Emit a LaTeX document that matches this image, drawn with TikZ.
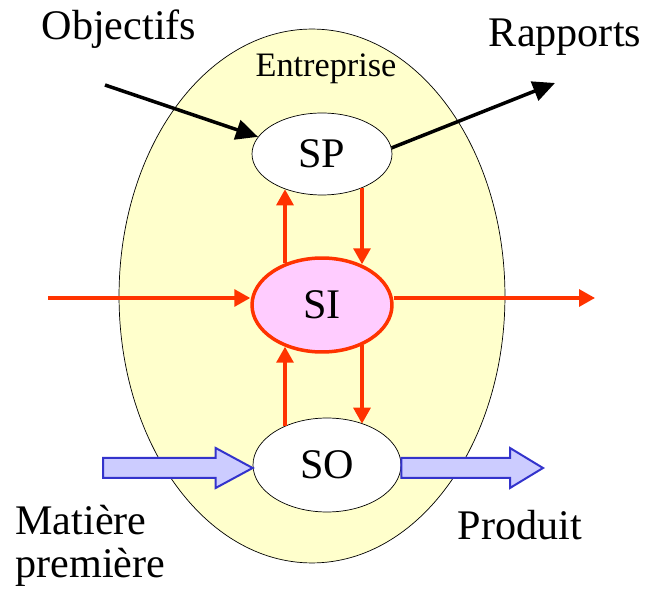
\documentclass[tikz,border=0pt]{standalone}
\usepackage{fontspec}
\setmainfont{Liberation Serif}
\newfontfamily\timesfont{Liberation Serif}
\usepackage{tikz}
\usetikzlibrary{arrows.meta, positioning, calc, shapes.geometric}
\definecolor{entfond}{RGB}{255,255,204}
\definecolor{sirose}{RGB}{255,204,255}
\definecolor{flux}{RGB}{255,51,0}
\definecolor{matbleu}{RGB}{51,51,204}
\definecolor{matfond}{RGB}{204,204,255}

\begin{document}
\begin{tikzpicture}[x=0.02cm, y=-0.02cm,
      sys/.style={ellipse, draw, thin, fill=white, inner sep=0pt,
                  font=\timesfont\fontsize{24}{26}\selectfont},
      lbl/.style={font=\timesfont\fontsize{24}{26}\selectfont, inner sep=0pt, anchor=base},
      noir/.style={-{Triangle[length=0.44cm, width=0.4cm]}, line width=0.07cm},
      rouge/.style={-{Triangle[length=0.32cm, width=0.34cm]}, flux, line width=0.065cm},
      gros/.style={draw=matbleu, fill=matfond, line width=0.04cm, line join=miter},
    ]
    \useasboundingbox (0,0) rectangle (646,594);
    \node[ellipse, draw, thin, fill=entfond, minimum width=7.72cm, minimum height=10.68cm] (ent) at (312,296) {};
    \node[lbl, font=\timesfont\fontsize{19.5}{22}\selectfont] (entreprise) at (326,77) {Entreprise};
    % les trois sous-systemes
    \node[sys, minimum width=2.8cm, minimum height=1.64cm] (SP) at (322,154) {SP};
    \node[sys, draw=flux, line width=0.07cm, fill=sirose, minimum width=2.8cm, minimum height=1.88cm] (SI) at (322,305) {SI};
    \node[sys, minimum width=2.96cm, minimum height=1.88cm] (SO) at (327,465) {SO};
    % textes
    \node[lbl] (objectifs) at (119,40) {Objectifs};
    \node[lbl] (rapports) at (565,47) {Rapports};
    \node[lbl, anchor=base west] (matiere) at (15,535) {Matière};
    \node[lbl, anchor=base west] (premiere) at (15,578) {première};
    \node[lbl] (produit) at (520,540) {Produit};
    \coordinate (obj) at (105,85);
    \coordinate (rap) at (555,83);
    \coordinate (siin) at (48,298);
    \coordinate (siout) at (595,298);
    \coordinate (gx) at (285,0);
    \coordinate (dx) at (362,0);
    \coordinate (mpin) at (103,468);
    \coordinate (prout) at (543,468);
    \draw[noir] (obj) -- (SP.165);
    \draw[noir] (SP.5) -- (rap);
    \draw[rouge] (siin) -- (SI.west |- siin);
    \draw[rouge] (SI.east |- siout) -- (siout);
    \draw[rouge, shorten <=-0.16cm, shorten >=-0.14cm] (gx |- SO.north) -- (gx |- SI.south);
    \draw[rouge, shorten <=-0.14cm, shorten >=-0.12cm] (gx |- SI.north) -- (gx |- SP.south);
    \draw[rouge, shorten <=-0.14cm, shorten >=-0.16cm] (dx |- SP.south) -- (dx |- SI.north);
    \draw[rouge, shorten <=-0.18cm, shorten >=-0.12cm] (dx |- SI.south) -- (dx |- SO.north);
    \draw[gros] ($(mpin)+(0,-10)$) -- ($(SO.west |- mpin)+(-37,-10)$) -- ($(SO.west |- mpin)+(-37,-20)$)
      -- (SO.west |- mpin) -- ($(SO.west |- mpin)+(-37,20)$) -- ($(SO.west |- mpin)+(-37,10)$)
      -- ($(mpin)+(0,10)$) -- cycle;
    \draw[gros] ($(SO.east |- prout)+(0,-10)$) -- ($(prout)+(-33,-10)$) -- ($(prout)+(-33,-20)$)
      -- (prout) -- ($(prout)+(-33,20)$) -- ($(prout)+(-33,10)$)
      -- ($(SO.east |- prout)+(0,10)$) -- cycle;
  \end{tikzpicture}
\end{document}
